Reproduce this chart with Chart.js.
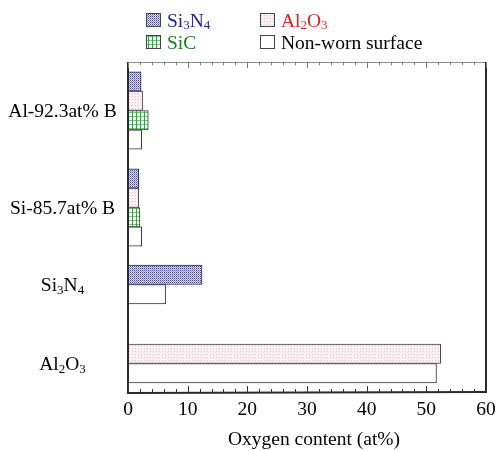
<!DOCTYPE html>
<html>
<head>
<meta charset="utf-8">
<script src="https://cdn.jsdelivr.net/npm/chart.js@4/dist/chart.umd.min.js"></script>
<style>
  html, body { margin: 0; padding: 0; background: #ffffff; }
  #wrap { width: 497px; height: 451px; }
</style>
</head>
<body>
<div id="wrap"><canvas id="c" width="497" height="451"></canvas></div>
<script>
// Oxygen content (at%) measured on worn surfaces, per counterface material
const categories = ['Al-92.3at% B', 'Si-85.7at% B', 'Si3N4', 'Al2O3'];
const seriesNames = ['Si3N4', 'Al2O3', 'SiC', 'Non-worn surface'];
const si3n4Counterface = [2.2, 1.8, 12.4, null];
const al2o3Counterface = [2.5, 1.8, null, 52.4];
const sicCounterface   = [3.4, 2.0, null, null];
const nonWornSurface   = [2.3, 2.3, 6.3, 51.7];
const xTickValues = [0, 10, 20, 30, 40, 50, 60];
const xTitle = 'Oxygen content (at%)';

const seriesValues = [si3n4Counterface, al2o3Counterface, sicCounterface, nonWornSurface];

// ---- layout ----
const FONT = 'Liberation Serif, Times New Roman, serif';
const FS = 19.5;
// vertical scale runs 0..330 from top to bottom; row centres on that scale
const rowCentre = [48.5, 145.5, 222.5, 301.5];
const textColours = ['#1f1f9e', '#e3241f', '#17801a', '#000000'];

function makePattern(size, paint) {
  const c = document.createElement('canvas');
  c.width = size; c.height = size;
  const g = c.getContext('2d');
  paint(g);
  return g.createPattern(c, 'repeat');
}
const fills = [
  // blue dot screen
  makePattern(2, g => {
    g.fillStyle = '#dedef5'; g.fillRect(0, 0, 2, 2);
    g.fillStyle = '#4444a4'; g.fillRect(0, 0, 1, 1);
    g.fillStyle = '#8c8cce'; g.fillRect(1, 1, 1, 1);
  }),
  // faint pink stipple
  makePattern(3, g => {
    g.fillStyle = '#fbf4f6'; g.fillRect(0, 0, 3, 3);
    g.fillStyle = '#e8bccb'; g.fillRect(0, 0, 1, 1);
    g.fillStyle = '#f3dde5'; g.fillRect(2, 1, 1, 1);
  }),
  // green grid
  makePattern(4, g => {
    g.fillStyle = '#eef8ee'; g.fillRect(0, 0, 4, 4);
    g.fillStyle = '#3a9e40'; g.fillRect(0, 0, 1, 4);
    g.fillStyle = '#7cc480'; g.fillRect(1, 0, 3, 1);
  }),
  '#ffffff'
];
const edges = ['#2a2a55', '#444444', '#224422', '#333333'];

// Split a chemical formula into normal / subscript runs
function richParts(text) {
  if (!/^([A-Z][a-z]?\d*)+$/.test(text)) return [{ t: text, sub: false }];
  const parts = [];
  const re = /([A-Za-z]+)|(\d+)/g;
  let m;
  while ((m = re.exec(text))) parts.push(m[1] ? { t: m[1], sub: false } : { t: m[2], sub: true });
  return parts;
}
function richWidth(ctx, parts, size) {
  let w = 0;
  for (const p of parts) {
    ctx.font = (p.sub ? Math.round(size * 0.68) : size) + 'px ' + FONT;
    w += ctx.measureText(p.t).width;
  }
  return w;
}
function drawRich(ctx, text, x, y, size, colour, align) {
  const parts = richParts(text);
  const w = richWidth(ctx, parts, size);
  let cx = align === 'center' ? x - w / 2 : x;
  ctx.fillStyle = colour;
  ctx.textBaseline = 'alphabetic';
  ctx.textAlign = 'left';
  for (const p of parts) {
    const s = p.sub ? Math.round(size * 0.68) : size;
    ctx.font = s + 'px ' + FONT;
    ctx.fillText(p.t, cx, p.sub ? y + size * 0.15 : y);
    cx += ctx.measureText(p.t).width;
  }
}

// Frame (top/right), inward tick marks, row labels, axis title and legend
const decorations = {
  id: 'decorations',
  afterDatasetsDraw(chart) {
    const { ctx, chartArea: a } = chart;
    const xs = chart.scales.x, ys = chart.scales.y;
    ctx.save();
    // top edge
    ctx.strokeStyle = '#8a8a8a'; ctx.lineWidth = 1;
    ctx.beginPath(); ctx.moveTo(a.left, a.top + 0.5); ctx.lineTo(a.right, a.top + 0.5); ctx.stroke();
    // right edge
    ctx.strokeStyle = '#2a2a2a'; ctx.lineWidth = 2;
    ctx.beginPath(); ctx.moveTo(a.right, a.top); ctx.lineTo(a.right, a.bottom); ctx.stroke();
    // left & bottom edges drawn over bar ends
    ctx.beginPath(); ctx.moveTo(a.left, a.top); ctx.lineTo(a.left, a.bottom + 1); ctx.lineTo(a.right + 1, a.bottom); ctx.stroke();
    // minor/major ticks, every 2 at%
    for (let v = xs.min; v <= xs.max; v += 2) {
      const px = Math.round(xs.getPixelForValue(v)) + 0.5;
      const len = v % 10 === 0 ? 6 : 3;
      ctx.lineWidth = 1;
      ctx.strokeStyle = '#333333';
      ctx.beginPath(); ctx.moveTo(px, a.bottom); ctx.lineTo(px, a.bottom - len); ctx.stroke();
      ctx.strokeStyle = '#777777';
      ctx.beginPath(); ctx.moveTo(px, a.top); ctx.lineTo(px, a.top + len); ctx.stroke();
    }
    // row labels
    categories.forEach((name, i) => {
      const py = ys.getPixelForValue(rowCentre[i]);
      drawRich(ctx, name, 62.5, py + 6.5, FS, '#000000', 'center');
    });
    // axis title, set slightly right of the plot centre
    drawRich(ctx, xTitle, (a.left + a.right) / 2 + 7, 445, FS, '#000000', 'center');
    // legend, two columns
    const boxX = [146, 260], boxY = [13, 35];
    chart.data.datasets.forEach((ds, k) => {
      const col = k === 0 || k === 2 ? 0 : 1;
      const row = k < 2 ? 0 : 1;
      const bx = boxX[col], by = boxY[row];
      ctx.fillStyle = ds.backgroundColor;
      ctx.fillRect(bx, by, 15, 14);
      ctx.strokeStyle = '#444444'; ctx.lineWidth = 1;
      ctx.strokeRect(bx + 0.5, by + 0.5, 14, 13);
      drawRich(ctx, ds.label, bx + 21, by + 13.5, FS, textColours[k], 'left');
    });
    ctx.restore();
  }
};

new Chart(document.getElementById('c'), {
  type: 'bar',
  data: {
    datasets: seriesValues.map((vals, k) => ({
      label: seriesNames[k],
      data: vals.map((v, i) => ({ x: v, y: rowCentre[i] })),
      backgroundColor: fills[k],
      borderColor: edges[k],
      borderWidth: 1,
      borderSkipped: 'start'
    }))
  },
  options: {
    indexAxis: 'y',
    responsive: false,
    animation: false,
    datasets: { bar: { skipNull: true, barThickness: 19.3, grouped: true } },
    layout: { padding: { top: 62, right: 11, left: 0, bottom: 0 } },
    plugins: { legend: { display: false }, tooltip: { enabled: false } },
    scales: {
      x: {
        type: 'linear', position: 'bottom', min: 0, max: 60,
        afterBuildTicks: s => { s.ticks = xTickValues.map(v => ({ value: v })); },
        grid: { display: false, drawTicks: false },
        border: { display: false },
        ticks: { padding: 6, color: '#000000', font: { family: FONT, size: FS } },
        afterFit: s => { s.height = 59; s.paddingLeft = 0; s.paddingRight = 0; }
      },
      y: {
        type: 'linear', position: 'left', min: 0, max: 330, reverse: true, offset: false,
        grid: { display: false, drawTicks: false, offset: false },
        border: { display: false },
        ticks: { display: false },
        afterFit: s => { s.width = 128; }
      }
    }
  },
  plugins: [decorations]
});
</script>
</body>
</html>
